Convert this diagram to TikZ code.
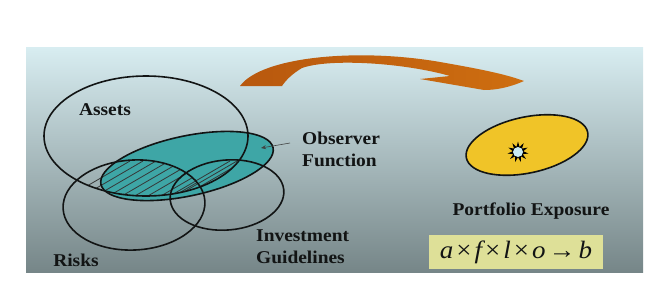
\documentclass[tikz,border=0pt]{standalone}
\usepackage{fontspec}
\setmainfont{Liberation Serif}[FakeStretch=1.08]
\usepackage{tikz}
\usetikzlibrary{shapes.geometric, arrows.meta, positioning, calc}
\definecolor{panelTop}{RGB}{216,237,241}
\definecolor{panelMid}{RGB}{178,199,203}
\definecolor{panelBot}{RGB}{118,134,136}
\definecolor{observerTeal}{RGB}{62,166,166}
\definecolor{exposureGold}{RGB}{240,196,40}
\definecolor{arrowBrown}{RGB}{184,88,14}
\definecolor{arrowLight}{RGB}{206,110,16}
\definecolor{formulaFill}{RGB}{222,224,152}
\definecolor{inkDark}{RGB}{18,20,20}
\newcommand{\gap}{\hspace{3pt}}

\begin{document}
\begin{tikzpicture}[
    x=1pt, y=-1pt,
    every node/.style={font=\fontsize{18}{22}\selectfont\bfseries,
                       text=inkDark, inner sep=0pt},
    outline/.style={draw=inkDark, line width=1.6pt},
    hatch/.style={draw=inkDark!85, line width=0.8pt},
    tag/.style={align=left, anchor=west}
]
\useasboundingbox (0,0) rectangle (669,290);
\shade[top color=panelTop, middle color=panelMid, bottom color=panelBot]
    (26,47) rectangle (643,272);

% observer function and its hatched overlaps
\fill[observerTeal, rotate around={12:(187,166)}]
    (187,166) ellipse [x radius=88, y radius=30];
\begin{scope}
  \clip (146,136) ellipse [x radius=102, y radius=60];
  \begin{scope}
    \clip[rotate around={3:(134,205)}] (134,205) ellipse [x radius=71, y radius=45];
    \foreach \k in {0,...,13}
      \draw[hatch] (20+\k*13,225) -- ++(110,-64);
  \end{scope}
  \begin{scope}
    \clip[rotate around={5:(227,195)}] (227,195) ellipse [x radius=57, y radius=35];
    \foreach \k in {0,...,24}
      \draw[hatch] (120+\k*7,225) -- ++(110,-64);
  \end{scope}
\end{scope}

\draw[outline] (146,136) ellipse [x radius=102, y radius=60];
\draw[outline, rotate around={3:(134,205)}] (134,205) ellipse [x radius=71, y radius=45];
\draw[outline, rotate around={5:(227,195)}] (227,195) ellipse [x radius=57, y radius=35];
\draw[outline, rotate around={12:(187,166)}] (187,166) ellipse [x radius=88, y radius=30];

% big curved arrow
\shade[left color=arrowBrown, right color=arrowLight]
    (240,86) .. controls (262,56) and (360,48) .. (440,62)
    .. controls (480,69) and (505,74) .. (524,81)
    .. controls (508,88) and (495,90) .. (484,90) -- (420,79) -- (450,76)
    .. controls (405,63) and (330,58) .. (302,68)
    .. controls (292,74) and (286,80) .. (282,86) -- cycle;

% exposure
\draw[outline, fill=exposureGold, rotate around={12:(527,145)}]
    (527,145) ellipse [x radius=62, y radius=28];
\node[star, star points=11, star point ratio=2, fill=black,
      minimum size=21pt] (burst) at (518,152) {};
\node[circle, fill={rgb,255:red,200;green,234;blue,242},
      minimum size=10pt] (burstCore) at (burst.center) {};

\node (assets) at (105,110) {Assets};
\node (risks) at (76,260) {Risks};
\node[tag] (observer) at (302,149) {Observer\\Function};
\node[tag] (invest) at (256,247) {Investment\\Guidelines};
\node (exposure) at (531,211) {Portfolio Exposure};
\node[fill=formulaFill, minimum width=174pt, minimum height=34pt] (formula)
    at (516,252) {\fontsize{25}{26}\selectfont\mdseries\itshape
      a\gap{\upshape×}\gap f\gap{\upshape×}\gap l\gap{\upshape×}\gap o\gap{\upshape→}\gap b};

\coordinate (obsTail) at (290,143);
\coordinate (obsTip) at (261,148);
\draw[inkDark!80, line width=0.6pt, -{Stealth[length=5pt, width=4pt]}]
    (obsTail) -- (obsTip);

\end{tikzpicture}
\end{document}
